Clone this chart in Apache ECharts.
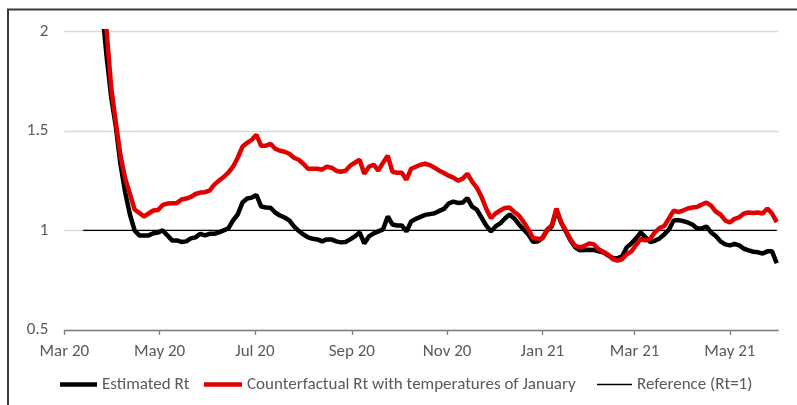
<!DOCTYPE html>
<html>
<head>
<meta charset="utf-8">
<script src="https://cdn.jsdelivr.net/npm/echarts@6/dist/echarts.min.js"></script>
<style>
  html, body { margin: 0; padding: 0; background: #fff; }
  #chart { width: 797px; height: 405px; }
</style>
</head>
<body>
<div id="chart"></div>
<script>
// Observation dates (every third day, 13 Mar 2020 – 31 May 2021)
const dates = [
  '2020-03-13','2020-03-16','2020-03-19','2020-03-22','2020-03-25','2020-03-28','2020-03-31',
  '2020-04-03','2020-04-06','2020-04-09','2020-04-12','2020-04-15','2020-04-18','2020-04-21',
  '2020-04-24','2020-04-27','2020-04-30','2020-05-03','2020-05-06','2020-05-09','2020-05-12',
  '2020-05-15','2020-05-18','2020-05-21','2020-05-24','2020-05-27','2020-05-30','2020-06-02',
  '2020-06-05','2020-06-08','2020-06-11','2020-06-14','2020-06-17','2020-06-20','2020-06-23',
  '2020-06-26','2020-06-29','2020-07-02','2020-07-05','2020-07-08','2020-07-11','2020-07-14',
  '2020-07-17','2020-07-20','2020-07-23','2020-07-26','2020-07-29','2020-08-01','2020-08-04',
  '2020-08-07','2020-08-10','2020-08-13','2020-08-16','2020-08-19','2020-08-22','2020-08-25',
  '2020-08-28','2020-08-31','2020-09-03','2020-09-06','2020-09-09','2020-09-12','2020-09-15',
  '2020-09-18','2020-09-21','2020-09-24','2020-09-27','2020-09-30','2020-10-03','2020-10-06',
  '2020-10-09','2020-10-12','2020-10-15','2020-10-18','2020-10-21','2020-10-24','2020-10-27',
  '2020-10-30','2020-11-02','2020-11-05','2020-11-08','2020-11-11','2020-11-14','2020-11-17',
  '2020-11-20','2020-11-23','2020-11-26','2020-11-29','2020-12-02','2020-12-05','2020-12-08',
  '2020-12-11','2020-12-14','2020-12-17','2020-12-20','2020-12-23','2020-12-26','2020-12-29',
  '2021-01-01','2021-01-04','2021-01-07','2021-01-10','2021-01-13','2021-01-16','2021-01-19',
  '2021-01-22','2021-01-25','2021-01-28','2021-01-31','2021-02-03','2021-02-06','2021-02-09',
  '2021-02-12','2021-02-15','2021-02-18','2021-02-21','2021-02-24','2021-02-27','2021-03-02',
  '2021-03-05','2021-03-08','2021-03-11','2021-03-14','2021-03-17','2021-03-20','2021-03-23',
  '2021-03-26','2021-03-29','2021-04-01','2021-04-04','2021-04-07','2021-04-10','2021-04-13',
  '2021-04-16','2021-04-19','2021-04-22','2021-04-25','2021-04-28','2021-05-01','2021-05-04',
  '2021-05-07','2021-05-10','2021-05-13','2021-05-16','2021-05-19','2021-05-22','2021-05-25',
  '2021-05-28','2021-05-31'
];

// Estimated effective reproduction number
const estimatedRt = [
  3.10, 2.85, 2.60, 2.37, 2.13, 1.88, 1.67,
  1.52, 1.33, 1.19, 1.08, 1.00, 0.975, 0.975,
  0.975, 0.986, 0.99, 1.00, 0.975, 0.95, 0.95,
  0.942, 0.945, 0.96, 0.965, 0.983, 0.975, 0.983,
  0.983, 0.99, 1.00, 1.01, 1.05, 1.08, 1.14,
  1.16, 1.165, 1.178, 1.12, 1.115, 1.114, 1.09,
  1.075, 1.065, 1.05, 1.02, 0.998, 0.98, 0.965,
  0.958, 0.955, 0.945, 0.955, 0.955, 0.945, 0.94,
  0.942, 0.955, 0.97, 0.99, 0.935, 0.97, 0.985,
  0.995, 1.005, 1.07, 1.03, 1.025, 1.025, 0.995,
  1.045, 1.058, 1.068, 1.078, 1.082, 1.086, 1.098,
  1.108, 1.135, 1.145, 1.138, 1.14, 1.162, 1.12,
  1.105, 1.065, 1.025, 0.995, 1.02, 1.035, 1.06,
  1.08, 1.06, 1.03, 1.005, 0.98, 0.943, 0.945,
  0.962, 1.00, 1.02, 1.10, 1.04, 0.995, 0.95,
  0.915, 0.90, 0.902, 0.903, 0.902, 0.895, 0.89,
  0.875, 0.862, 0.86, 0.87, 0.915, 0.935, 0.96,
  0.99, 0.965, 0.942, 0.948, 0.96, 0.98, 1.005,
  1.05, 1.052, 1.047, 1.04, 1.03, 1.01, 1.01,
  1.02, 0.99, 0.972, 0.945, 0.93, 0.925, 0.932,
  0.925, 0.908, 0.90, 0.893, 0.89, 0.884, 0.895,
  0.895, 0.835
];

// Counterfactual Rt under January temperatures
const counterfactualRt = [
  3.40, 3.10, 2.80, 2.50, 2.25, 2.01, 1.72,
  1.54, 1.375, 1.26, 1.185, 1.105, 1.088, 1.07,
  1.085, 1.10, 1.103, 1.128, 1.135, 1.137, 1.137,
  1.155, 1.16, 1.168, 1.183, 1.19, 1.192, 1.20,
  1.23, 1.25, 1.268, 1.29, 1.32, 1.365, 1.42,
  1.44, 1.455, 1.48, 1.425, 1.425, 1.435, 1.41,
  1.40, 1.395, 1.385, 1.365, 1.355, 1.335, 1.31,
  1.31, 1.31, 1.305, 1.32, 1.315, 1.30, 1.295,
  1.30, 1.325, 1.34, 1.355, 1.285, 1.32, 1.33,
  1.30, 1.34, 1.375, 1.295, 1.29, 1.29, 1.255,
  1.31, 1.32, 1.33, 1.335, 1.328, 1.315, 1.30,
  1.288, 1.275, 1.265, 1.25, 1.26, 1.285, 1.245,
  1.215, 1.17, 1.11, 1.062, 1.085, 1.10, 1.113,
  1.115, 1.093, 1.075, 1.042, 1.005, 0.962, 0.958,
  0.96, 1.005, 1.025, 1.11, 1.04, 1.00, 0.955,
  0.922, 0.915, 0.922, 0.935, 0.93, 0.905, 0.893,
  0.878, 0.856, 0.848, 0.855, 0.88, 0.895, 0.928,
  0.957, 0.95, 0.958, 0.99, 1.012, 1.022, 1.06,
  1.10, 1.092, 1.10, 1.11, 1.115, 1.118, 1.13,
  1.14, 1.125, 1.095, 1.08, 1.05, 1.04, 1.058,
  1.066, 1.085, 1.09, 1.088, 1.09, 1.085, 1.11,
  1.085, 1.042
];

// Reference threshold Rt = 1 over the observation window
const referenceLevel = 1;
const referenceSpan = ['2020-03-13', '2021-05-31'];

// Axis range, ticks and labels
const axisStart = '2020-03-01';
const axisEnd = '2021-06-01';
const monthTicks = ['2020-03-01','2020-05-01','2020-07-01','2020-09-01','2020-11-01','2021-01-01','2021-03-01','2021-05-01'];
const monthLabels = ['Mar 20','May 20','Jul 20','Sep 20','Nov 20','Jan 21','Mar 21','May 21'];
const yTicks = [0.5, 1, 1.5, 2];

const NAME_EST = 'Estimated Rt';
const NAME_CF = 'Counterfactual Rt with temperatures of January';
const NAME_REF = 'Reference (Rt=1)';

const ts = d => Date.parse(d + 'T00:00:00Z');
const tickTimes = monthTicks.map(ts);
const labelFor = {};
tickTimes.forEach((t, i) => { labelFor[t] = monthLabels[i]; });
const toPairs = (vals) => vals.map((v, i) => [ts(dates[i]), v]);

const FONT = 'Carlito, Lato, "Open Sans", sans-serif';
const TEXT = '#595959';
const RED = '#e00000';

// One legend block per series so each key line keeps its own weight
const legendBlock = (name, left, width, thickness) => ({
  left: left,
  top: 376,
  padding: 0,
  icon: 'rect',
  itemWidth: width,
  itemHeight: thickness,
  itemGap: 0,
  selectedMode: false,
  textStyle: { color: TEXT, fontSize: 17, fontFamily: FONT },
  data: [name]
});

const chart = echarts.init(document.getElementById('chart'), null, { renderer: 'canvas' });
chart.setOption({
  animation: false,
  backgroundColor: '#ffffff',
  textStyle: { fontFamily: FONT },
  grid: { left: 64.3, right: 18.7, top: 31.3, bottom: 75, containLabel: false },
  legend: [
    legendBlock(NAME_EST, 60, 37, 4.5),
    legendBlock(NAME_CF, 204, 38, 4.5),
    legendBlock(NAME_REF, 597, 35, 1.4)
  ],
  xAxis: {
    type: 'value',
    min: ts(axisStart),
    max: ts(axisEnd),
    axisLine: { show: true, lineStyle: { color: '#7f7f7f', width: 1.3 } },
    axisTick: { show: true, customValues: tickTimes, length: 5, lineStyle: { color: '#7f7f7f', width: 1.3 } },
    axisLabel: {
      customValues: tickTimes,
      formatter: v => labelFor[v] || '',
      color: TEXT, fontSize: 17, fontFamily: FONT, margin: 13
    },
    splitLine: { show: false }
  },
  yAxis: {
    type: 'value',
    min: yTicks[0],
    max: yTicks[yTicks.length - 1],
    interval: 0.5,
    axisLine: { show: false },
    axisTick: { show: false },
    axisLabel: { color: TEXT, fontSize: 17, fontFamily: FONT, margin: 16 },
    splitLine: { lineStyle: { color: '#d9d9d9', width: 1.3 } }
  },
  series: [
    {
      name: NAME_EST,
      type: 'line',
      data: toPairs(estimatedRt),
      symbol: 'none',
      lineStyle: { color: '#000000', width: 4.5 },
      itemStyle: { color: '#000000' },
      z: 3
    },
    {
      name: NAME_CF,
      type: 'line',
      data: toPairs(counterfactualRt),
      symbol: 'none',
      lineStyle: { color: RED, width: 4.5 },
      itemStyle: { color: RED },
      z: 4
    },
    {
      name: NAME_REF,
      type: 'line',
      data: referenceSpan.map(d => [ts(d), referenceLevel]),
      symbol: 'none',
      lineStyle: { color: '#000000', width: 1.3 },
      itemStyle: { color: '#000000' },
      z: 2
    }
  ],
  graphic: [
    {
      type: 'rect',
      silent: true,
      shape: { x: 8, y: 9.5, width: 820, height: 420 },
      style: { fill: 'none', stroke: '#3a3a3a', lineWidth: 2 }
    }
  ]
});
</script>
</body>
</html>
